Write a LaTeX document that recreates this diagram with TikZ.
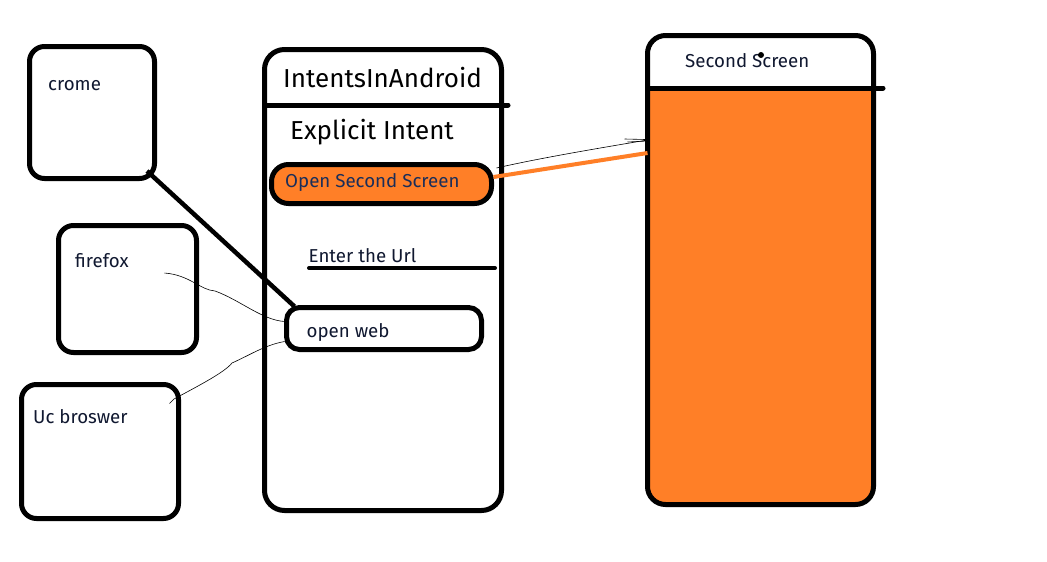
\documentclass[tikz,border=0pt]{standalone}
\usepackage{fontspec}
\setmainfont{Fira Sans}
\usetikzlibrary{calc}
\definecolor{paintorange}{HTML}{FF7F27}
\definecolor{labelink}{HTML}{101830}
\definecolor{btnink}{HTML}{1A2E5A}
\begin{document}
\begin{tikzpicture}[x=1pt,y=-1pt,
  box/.style={draw=black,line width=5pt,rounded corners=15pt,inner sep=0pt,outer sep=0pt},
  lbl/.style={anchor=base west,inner sep=0pt,text=labelink,font=\fontsize{18.7}{22}\selectfont},
  big/.style={anchor=base west,inner sep=0pt,text=black,font=\fontsize{26}{30}\selectfont},
  wire/.style={draw=black,line width=0.6pt}
]
\useasboundingbox[fill=white] (0,0) rectangle (1047,562);

% browser boxes on the left
\node[box,minimum width=125pt,minimum height=132pt] (crome) at (92,112.5) {};
\node[box,minimum width=138pt,minimum height=127pt] (firefox) at (127.5,289) {};
\node[box,minimum width=157pt,minimum height=134pt] (uc) at (100,451.5) {};
\node[lbl] (tcrome) at (48,90) {crome};
\node[lbl] (tfirefox) at (75,267) {firefox};
\node[lbl] (tuc) at (33,423) {Uc broswer};

% main app screen
\node[box,rounded corners=20pt,minimum width=237pt,minimum height=461pt] (phone) at (383,280) {};
\coordinate (phoneBarR) at (508,105);
\draw[line width=5pt,line cap=round] (phone.west |- phoneBarR) -- (phoneBarR);
\node[big] (title) at (283,87) {IntentsInAndroid};
\node[big] (explicit) at (290,139) {Explicit Intent};
\node[box,fill=paintorange,rounded corners=17pt,minimum width=220pt,minimum height=39pt] (opensecond) at (381.5,184) {};
\node[lbl,text=btnink] (topensecond) at (285,187) {Open Second Screen};
\node[lbl] (url) at (308.5,262) {Enter the Url};
\coordinate (urlL) at (309,268);
\coordinate (urlR) at (495,268);
\draw[line width=4pt,line cap=round] (urlL) -- (urlR);
\node[box,rounded corners=13pt,minimum width=195pt,minimum height=42pt] (openweb) at (384,328.5) {};
\node[lbl] (topenweb) at (306.5,337) {open web};

% second screen
\fill[paintorange] (648,88) -- (873,88) [rounded corners=16pt] -- (873,504.5) -- (648,504.5) [sharp corners] -- cycle;
\node[box,rounded corners=18pt,minimum width=226pt,minimum height=469pt] (second) at (760.5,270) {};
\coordinate (secondBarR) at (883,88);
\draw[line width=5pt,line cap=round] (second.west |- secondBarR) -- (secondBarR);
\node[lbl] (tsecond) at (685,67) {Second Screen};
\fill (761,55) circle (3pt);

% connectors
\draw[line width=4.5pt] ($(crome.south east)+(-7.5,-7.5)$) -- ($(openweb.north west)+(8,-1)$);
\draw[wire] ($(firefox.east)+(-32,-16)$) .. controls (190,275) and (200,290) .. (215,291)
  .. controls (240,300) and (262,320) .. ($(openweb.west)+(-2,-7)$);
\draw[wire] ($(uc.north east)+(-9,19)$) -- (174,399) .. controls (200,385) and (225,372) .. (232,363)
  .. controls (250,355) and (265,345) .. ($(openweb.west)+(-2,13)$);
\draw[paintorange,line width=4pt] ($(opensecond.east)+(2,-7)$) -- ($(second.west)+(0,-117)$);
\draw[wire] ($(opensecond.east)+(5,-16)$) .. controls (540,158) and (600,148) .. ($(second.west)+(0,-130)$);
\draw[wire] ($(second.west)+(-23,-131)$) -- ($(second.west)+(-2,-130.5)$);
\draw[wire] ($(second.west)+(-20,-128)$) -- ($(second.west)+(0,-129)$);
\end{tikzpicture}
\end{document}
